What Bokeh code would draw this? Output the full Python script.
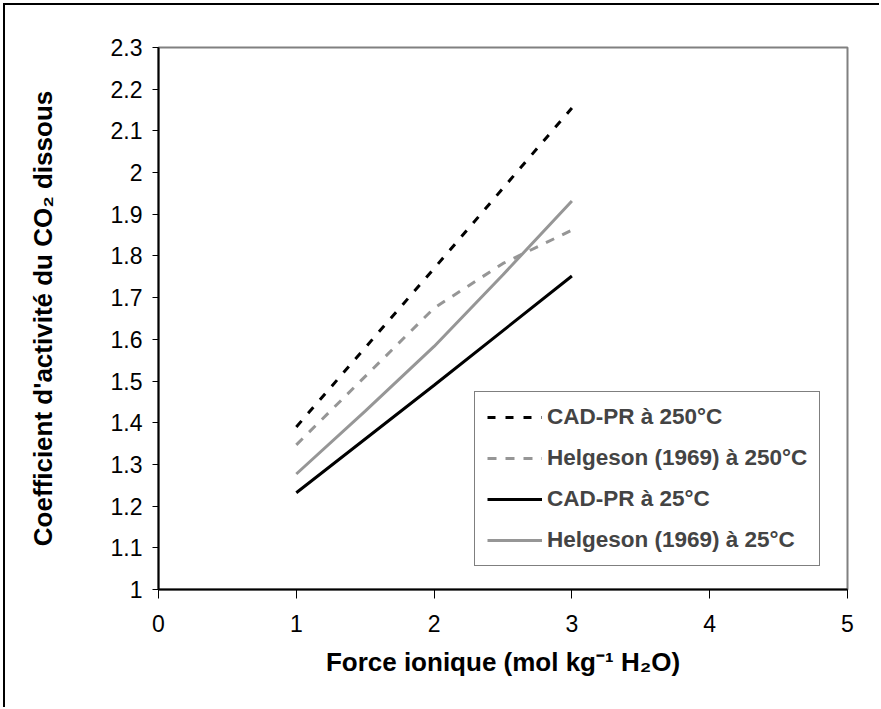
from bokeh.plotting import figure
from bokeh.models import FixedTicker, Legend, LegendItem
from bokeh.embed import file_html
from bokeh.resources import INLINE

# ---- data ----
x_cad250 = [1, 2, 3]
y_cad250 = [1.39, 1.77, 2.155]
x_helg250 = [1, 2, 2.5, 3]
y_helg250 = [1.347, 1.675, 1.782, 1.862]
x_cad25 = [1, 2, 3]
y_cad25 = [1.232, 1.49, 1.752]
x_helg25 = [1, 1.5, 2, 2.5, 3]
y_helg25 = [1.277, 1.428, 1.583, 1.755, 1.932]

series_names = ["CAD-PR à 250°C", "Helgeson (1969) à 250°C",
                "CAD-PR à 25°C", "Helgeson (1969) à 25°C"]

x_ticks = [0, 1, 2, 3, 4, 5]
y_ticks = [1.0, 1.1, 1.2, 1.3, 1.4, 1.5, 1.6, 1.7, 1.8, 1.9, 2.0, 2.1, 2.2, 2.3]
y_tick_labels = ["1", "1.1", "1.2", "1.3", "1.4", "1.5", "1.6", "1.7", "1.8",
                 "1.9", "2", "2.1", "2.2", "2.3"]

x_title = "Force ionique (mol kg⁻¹ H₂O)"
y_title = "Coefficient d'activité du CO₂ dissous"

FONT = "Liberation Sans"
GRAY = "#969696"

p = figure(width=876, height=704, x_range=(0, 5), y_range=(1, 2.3),
           output_backend="svg", toolbar_location=None,
           min_border_left=153, min_border_right=34,
           min_border_top=42, min_border_bottom=120)
p.styles = {"margin-left": "3px", "margin-top": "3px",
            "border-left": "2px solid #000", "border-top": "2px solid #000"}

p.xgrid.visible = False
p.ygrid.visible = False
p.outline_line_color = "#808080"
p.outline_line_width = 2

p.xaxis.ticker = FixedTicker(ticks=x_ticks)
p.yaxis.ticker = FixedTicker(ticks=y_ticks)
p.yaxis.major_label_overrides = {t: s for t, s in zip(y_ticks, y_tick_labels)}

for ax in (p.xaxis, p.yaxis):
    ax.axis_line_color = "#000000"
    ax.axis_line_width = 2
    ax.major_tick_line_color = "#000000"
    ax.major_tick_line_width = 1
    ax.minor_tick_line_color = None
    ax.major_tick_in = 0
    ax.major_label_text_font = FONT
    ax.major_label_text_font_size = "23px"
    ax.major_label_text_color = "#000000"
    ax.axis_label_text_font = FONT
    ax.axis_label_text_font_size = "26px"
    ax.axis_label_text_font_style = "bold"
    ax.axis_label_text_color = "#000000"

p.xaxis.major_tick_out = 9
p.yaxis.major_tick_out = 6
p.xaxis.major_label_standoff = 16
p.yaxis.major_label_standoff = 10
p.xaxis.axis_label = x_title
p.yaxis.axis_label = y_title
p.xaxis.axis_label_standoff = 12
p.yaxis.axis_label_standoff = 50

r1 = p.line(x_cad250, y_cad250, line_color="#000000", line_width=3, line_dash="8 10")
r2 = p.line(x_helg250, y_helg250, line_color=GRAY, line_width=3, line_dash="9 9")
r3 = p.line(x_cad25, y_cad25, line_color="#000000", line_width=3)
r4 = p.line(x_helg25, y_helg25, line_color=GRAY, line_width=3)

legend = Legend(items=[LegendItem(label=series_names[0], renderers=[r1]),
                       LegendItem(label=series_names[1], renderers=[r2]),
                       LegendItem(label=series_names[2], renderers=[r3]),
                       LegendItem(label=series_names[3], renderers=[r4])],
                location=(316, 23))
legend.border_line_color = "#000000"
legend.border_line_width = 1
legend.background_fill_color = "#ffffff"
legend.background_fill_alpha = 1
legend.label_text_font = FONT
legend.label_text_font_style = "bold"
legend.label_text_font_size = "22.5px"
legend.glyph_width = 55
legend.glyph_height = 24
legend.label_height = 24
legend.label_standoff = 5
legend.padding = 12
legend.spacing = 15
legend.margin = 0
p.add_layout(legend)

open("out.html", "w").write(file_html(p, INLINE))
